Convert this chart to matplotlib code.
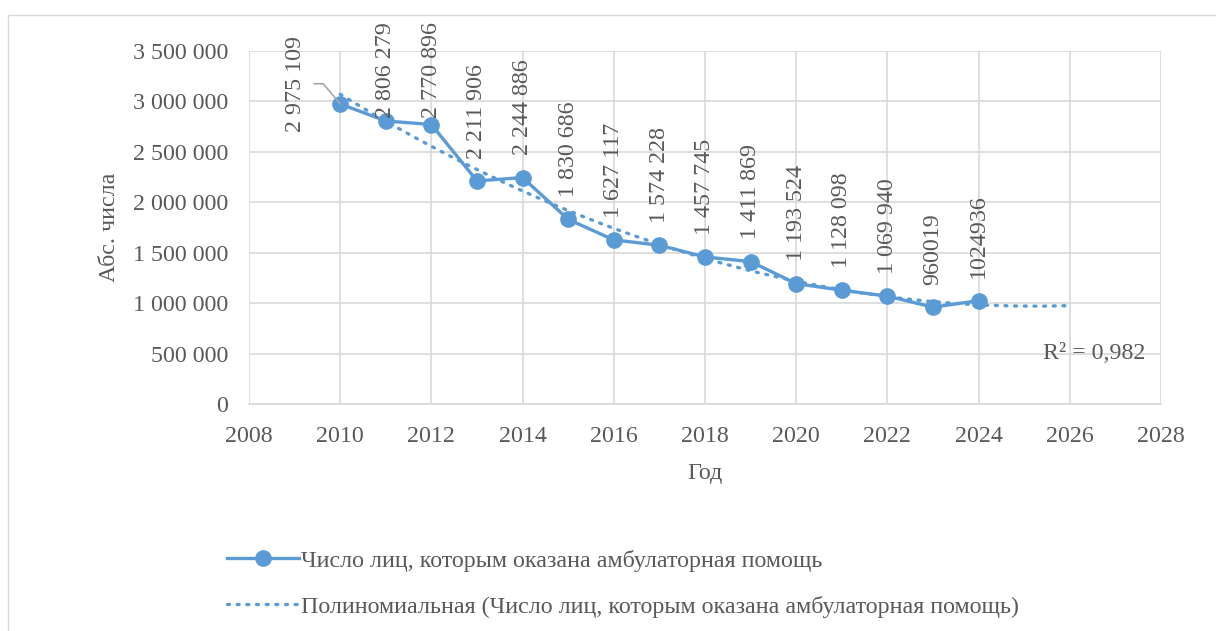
import numpy as np
import matplotlib
matplotlib.use("Agg")
import matplotlib.pyplot as plt
from matplotlib.lines import Line2D

years = [2010, 2011, 2012, 2013, 2014, 2015, 2016, 2017, 2018, 2019, 2020, 2021, 2022, 2023, 2024]
persons = [2975109, 2806279, 2770896, 2211906, 2244886, 1830686, 1627117, 1574228,
           1457745, 1411869, 1193524, 1128098, 1069940, 960019, 1024936]
labels = ['2 975 109', '2 806 279', '2 770 896', '2 211 906', '2 244 886', '1 830 686',
          '1 627 117', '1 574 228', '1 457 745', '1 411 869', '1 193 524', '1 128 098',
          '1 069 940', '960019', '1024936']
series_name = 'Число лиц, которым оказана амбулаторная помощь'
trend_name = 'Полиномиальная (Число лиц, которым оказана амбулаторная помощь)'
r2_text = 'R² = 0,982'

blue = '#5B9BD5'
grey = '#595959'
grid = '#D9D9D9'

plt.rcParams['font.family'] = ['Liberation Serif', 'DejaVu Serif']
fs = 17.3

W, H = 1216, 631
fig = plt.figure(figsize=(W / 100, H / 100), dpi=100)
ax = fig.add_axes([249 / W, 1 - 404 / H, 912 / W, 353 / H])

# polynomial trendline (2nd order), forecast 2 periods forward
coef = np.polyfit(years, persons, 2)
tx = np.linspace(years[0], years[-1] + 2, 200)
ax.plot(tx, np.polyval(coef, tx), color=blue, lw=2.4, ls=(0, (0.6, 2.3)),
        dash_capstyle='round', zorder=2)

ax.plot(years, persons, color=blue, lw=2.4, marker='o', ms=11, zorder=3)

ax.set_xlim(2008, 2028)
ax.set_ylim(0, 3500000)

texts = []
for i, (x, y, t) in enumerate(zip(years, persons, labels)):
    if i == 0:
        a = ax.annotate(t, (x, y), xytext=(-32.4, -20), textcoords='offset points',
                        rotation=90, ha='center', va='bottom', fontsize=fs, color=grey,
                        zorder=5,
                        arrowprops=dict(arrowstyle='-', color='#A6A6A6', lw=1.2,
                                        shrinkA=4, shrinkB=0, relpos=(1, 0.5),
                                        connectionstyle='angle,angleA=0,angleB=130,rad=0'))
    else:
        a = ax.annotate(t, (x, y), xytext=(0, 16), textcoords='offset points',
                        rotation=90, ha='center', va='bottom', fontsize=fs, color=grey)
        texts.append(a)

# keep labels inside the chart area, like Excel does
fig.canvas.draw()
r = fig.canvas.get_renderer()
top_px = H - 22
for a in texts:
    bb = a.get_window_extent(r)
    if bb.y1 > top_px:
        a.set_position((0, 16 - (bb.y1 - top_px) * 72 / 100))

ax.text(2027.65, 496000, r2_text, ha='right', va='center', fontsize=fs, color=grey)

ax.set_xticks(range(2008, 2029, 2))
ax.set_yticks(range(0, 3500001, 500000))
ax.set_yticklabels([f'{v:,}'.replace(',', ' ') for v in range(0, 3500001, 500000)])
ax.grid(True, color=grid, lw=1.2)
ax.set_axisbelow(True)
for s in ['top', 'right', 'left']:
    ax.spines[s].set_visible(False)
ax.spines['bottom'].set_color(grid)
ax.spines['bottom'].set_linewidth(1.2)
ax.tick_params(length=0, labelsize=fs, colors=grey)
ax.tick_params(axis='x', pad=16)
ax.tick_params(axis='y', pad=15)
ax.set_xlabel('Год', fontsize=fs, color=grey, labelpad=11)
ax.set_ylabel('Абс. числа', fontsize=fs, color=grey, labelpad=9)

handles = [Line2D([], [], color=blue, lw=2.4, marker='o', ms=11),
           Line2D([], [], color=blue, lw=2.4, ls=(0, (0.6, 2.3)), dash_capstyle='round')]
fig.legend(handles, [series_name, trend_name], loc='upper left',
           bbox_to_anchor=(217 / W, 1 - 540 / H), frameon=False,
           fontsize=fs, labelcolor=grey, handlelength=3.0, handletextpad=0.1,
           labelspacing=1.0, borderaxespad=0)

# chart area border
fig.add_artist(Line2D([8 / W, 8 / W, 1.0],
                      [-0.1, 1 - 15 / H, 1 - 15 / H],
                      transform=fig.transFigure, color='#D9D9D9', lw=1))

fig.savefig('out.png', dpi=100)
